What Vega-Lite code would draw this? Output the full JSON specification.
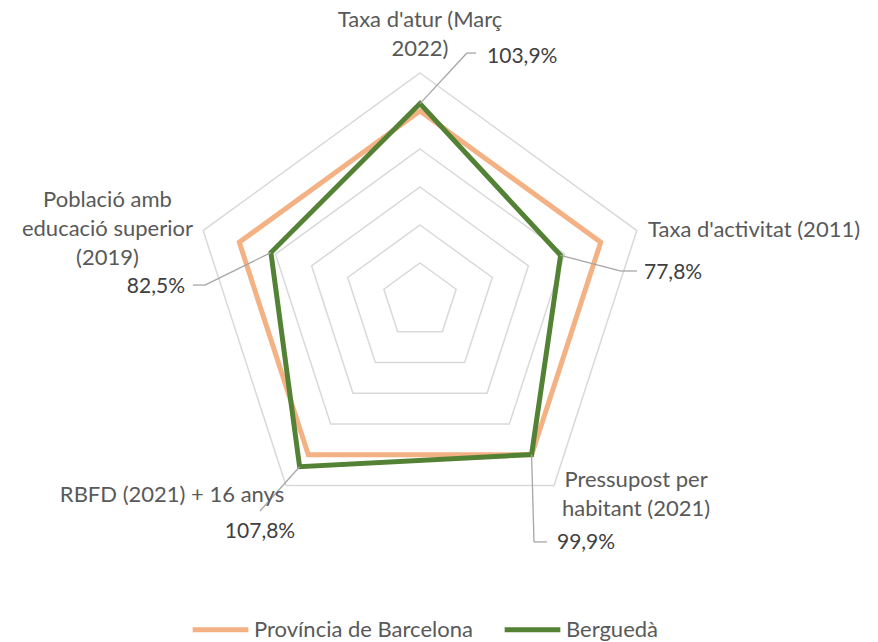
{
  "$schema": "https://vega.github.io/schema/vega-lite/v6.json",
  "width": 878,
  "height": 642,
  "autosize": {"type": "none"},
  "padding": 0,
  "background": "white",
  "config": {"view": {"stroke": null}, "font": "Lato"},
  "datasets": {
    "valors": [
      {"indicador": "Taxa d'atur (Març\n2022)", "k": 0, "serie": "Província de Barcelona", "valor": 100},
      {"indicador": "Taxa d'activitat (2011)", "k": 1, "serie": "Província de Barcelona", "valor": 100},
      {"indicador": "Pressupost per\nhabitant (2021)", "k": 2, "serie": "Província de Barcelona", "valor": 100},
      {"indicador": "RBFD (2021) + 16 anys", "k": 3, "serie": "Província de Barcelona", "valor": 100},
      {"indicador": "Població amb\neducació superior\n(2019)", "k": 4, "serie": "Província de Barcelona", "valor": 100},
      {"indicador": "Taxa d'atur (Març\n2022)", "k": 0, "serie": "Berguedà", "valor": 103.9},
      {"indicador": "Taxa d'activitat (2011)", "k": 1, "serie": "Berguedà", "valor": 77.8},
      {"indicador": "Pressupost per\nhabitant (2021)", "k": 2, "serie": "Berguedà", "valor": 99.9},
      {"indicador": "RBFD (2021) + 16 anys", "k": 3, "serie": "Berguedà", "valor": 107.8},
      {"indicador": "Població amb\neducació superior\n(2019)", "k": 4, "serie": "Berguedà", "valor": 82.5}
    ],
    "reixa": [
      {"nivell": 20, "k": 0}, {"nivell": 20, "k": 1}, {"nivell": 20, "k": 2}, {"nivell": 20, "k": 3}, {"nivell": 20, "k": 4},
      {"nivell": 40, "k": 0}, {"nivell": 40, "k": 1}, {"nivell": 40, "k": 2}, {"nivell": 40, "k": 3}, {"nivell": 40, "k": 4},
      {"nivell": 60, "k": 0}, {"nivell": 60, "k": 1}, {"nivell": 60, "k": 2}, {"nivell": 60, "k": 3}, {"nivell": 60, "k": 4},
      {"nivell": 80, "k": 0}, {"nivell": 80, "k": 1}, {"nivell": 80, "k": 2}, {"nivell": 80, "k": 3}, {"nivell": 80, "k": 4},
      {"nivell": 100, "k": 0}, {"nivell": 100, "k": 1}, {"nivell": 100, "k": 2}, {"nivell": 100, "k": 3}, {"nivell": 100, "k": 4},
      {"nivell": 120, "k": 0}, {"nivell": 120, "k": 1}, {"nivell": 120, "k": 2}, {"nivell": 120, "k": 3}, {"nivell": 120, "k": 4}
    ]
  },
  "layer": [
    {
      "data": {"name": "reixa"},
      "transform": [
        {"calculate": "2*PI*datum.k/5", "as": "ang"},
        {"calculate": "datum.nivell*sin(datum.ang)", "as": "x"},
        {"calculate": "datum.nivell*cos(datum.ang)", "as": "y"}
      ],
      "mark": {"type": "line", "interpolate": "linear-closed", "stroke": "#d9d9d9", "strokeWidth": 1.5, "strokeJoin": "miter"},
      "encoding": {
        "x": {"field": "x", "type": "quantitative", "scale": {"domain": [-221.05, 241.05], "nice": false, "zero": false}, "axis": null},
        "y": {"field": "y", "type": "quantitative", "scale": {"domain": [-179.47, 158.42], "nice": false, "zero": false}, "axis": null},
        "detail": {"field": "nivell", "type": "nominal"},
        "order": {"field": "k", "type": "quantitative"}
      }
    },
    {
      "data": {"name": "valors"},
      "transform": [
        {"calculate": "2*PI*datum.k/5", "as": "ang"},
        {"calculate": "datum.valor*sin(datum.ang)", "as": "x"},
        {"calculate": "datum.valor*cos(datum.ang)", "as": "y"}
      ],
      "mark": {"type": "line", "interpolate": "linear-closed", "strokeWidth": 5, "strokeJoin": "miter"},
      "encoding": {
        "x": {"field": "x", "type": "quantitative", "scale": {"domain": [-221.05, 241.05], "nice": false, "zero": false}, "axis": null},
        "y": {"field": "y", "type": "quantitative", "scale": {"domain": [-179.47, 158.42], "nice": false, "zero": false}, "axis": null},
        "color": {
          "field": "serie", "type": "nominal",
          "scale": {"domain": ["Província de Barcelona", "Berguedà"], "range": ["#F4B183", "#548235"]},
          "legend": {
            "orient": "none", "legendX": 190, "legendY": 599, "direction": "horizontal", "title": null,
            "symbolType": "stroke", "symbolStrokeWidth": 5, "symbolSize": 3100,
            "labelFont": "Lato", "labelFontSize": 22, "labelColor": "#595959", "labelOffset": 3, "labelLimit": 0,
            "columnPadding": 21
          }
        },
        "order": {"field": "k", "type": "quantitative"}
      }
    },
    {
      "data": {"name": "valors"},
      "transform": [
        {"filter": "datum.serie == 'Berguedà'"},
        {"calculate": "2*PI*datum.k/5", "as": "ang"},
        {"calculate": "datum.valor*sin(datum.ang)", "as": "x"},
        {"calculate": "datum.valor*cos(datum.ang)", "as": "y"},
        {"calculate": "[24.7, 105.3, 60, -84.2, -113.2][datum.k]", "as": "ex"},
        {"calculate": "[130.5, 15.8, -126.8, -110.5, 8.4][datum.k]", "as": "ey"}
      ],
      "mark": {"type": "rule", "stroke": "#a6a6a6", "strokeWidth": 1.3},
      "encoding": {
        "x": {"field": "x", "type": "quantitative", "scale": {"domain": [-221.05, 241.05], "nice": false, "zero": false}, "axis": null},
        "y": {"field": "y", "type": "quantitative", "scale": {"domain": [-179.47, 158.42], "nice": false, "zero": false}, "axis": null},
        "x2": {"field": "ex"},
        "y2": {"field": "ey"}
      }
    },
    {
      "data": {"name": "valors"},
      "transform": [
        {"filter": "datum.serie == 'Berguedà' && datum.k != 3"},
        {"calculate": "[24.7, 105.3, 60, -84.2, -113.2][datum.k]", "as": "ex"},
        {"calculate": "[130.5, 15.8, -126.8, -110.5, 8.4][datum.k]", "as": "ey"},
        {"calculate": "[29.5, 114.2, 66.8, -84.2, -119.5][datum.k]", "as": "tx"}
      ],
      "mark": {"type": "rule", "stroke": "#a6a6a6", "strokeWidth": 1.3},
      "encoding": {
        "x": {"field": "ex", "type": "quantitative", "scale": {"domain": [-221.05, 241.05], "nice": false, "zero": false}, "axis": null},
        "y": {"field": "ey", "type": "quantitative", "scale": {"domain": [-179.47, 158.42], "nice": false, "zero": false}, "axis": null},
        "x2": {"field": "tx"},
        "y2": {"field": "ey"}
      }
    },
    {
      "data": {"name": "valors"},
      "transform": [
        {"filter": "datum.serie == 'Berguedà'"},
        {"calculate": "replace(format(datum.valor, '.1f'), '.', ',') + '%'", "as": "etiqueta"},
        {"calculate": "[35.3, 117.9, 72.1, -84.2, -123.7][datum.k]", "as": "lx"},
        {"calculate": "[128.4, 14.7, -127.4, -121.6, 7.4][datum.k]", "as": "ly"},
        {"calculate": "datum.k <= 2 ? 'left' : (datum.k == 3 ? 'center' : 'right')", "as": "al"}
      ],
      "layer": [
        {
          "transform": [{"filter": "datum.al == 'left'"}],
          "mark": {"type": "text", "align": "left", "baseline": "middle", "fontSize": 21, "font": "Lato", "color": "#404040"},
          "encoding": {
            "x": {"field": "lx", "type": "quantitative", "scale": {"domain": [-221.05, 241.05], "nice": false, "zero": false}, "axis": null},
            "y": {"field": "ly", "type": "quantitative", "scale": {"domain": [-179.47, 158.42], "nice": false, "zero": false}, "axis": null},
            "text": {"field": "etiqueta"}
          }
        },
        {
          "transform": [{"filter": "datum.al == 'center'"}],
          "mark": {"type": "text", "align": "center", "baseline": "middle", "fontSize": 21, "font": "Lato", "color": "#404040"},
          "encoding": {
            "x": {"field": "lx", "type": "quantitative", "scale": {"domain": [-221.05, 241.05], "nice": false, "zero": false}, "axis": null},
            "y": {"field": "ly", "type": "quantitative", "scale": {"domain": [-179.47, 158.42], "nice": false, "zero": false}, "axis": null},
            "text": {"field": "etiqueta"}
          }
        },
        {
          "transform": [{"filter": "datum.al == 'right'"}],
          "mark": {"type": "text", "align": "right", "baseline": "middle", "fontSize": 21, "font": "Lato", "color": "#404040"},
          "encoding": {
            "x": {"field": "lx", "type": "quantitative", "scale": {"domain": [-221.05, 241.05], "nice": false, "zero": false}, "axis": null},
            "y": {"field": "ly", "type": "quantitative", "scale": {"domain": [-179.47, 158.42], "nice": false, "zero": false}, "axis": null},
            "text": {"field": "etiqueta"}
          }
        }
      ]
    },
    {
      "data": {"name": "valors"},
      "transform": [
        {"filter": "datum.serie == 'Província de Barcelona'"},
        {"calculate": "[0, 120, 113.7, -130.5, -164.5][datum.k]", "as": "cx"},
        {"calculate": "[147.9, 37.4, -94.2, -102.1, 53.2][datum.k]", "as": "cy"}
      ],
      "layer": [
        {
          "transform": [{"filter": "datum.k != 1"}],
          "mark": {"type": "text", "align": "center", "baseline": "middle", "fontSize": 22, "font": "Lato", "color": "#595959", "lineBreak": "\n", "lineHeight": 29},
          "encoding": {
            "x": {"field": "cx", "type": "quantitative", "scale": {"domain": [-221.05, 241.05], "nice": false, "zero": false}, "axis": null},
            "y": {"field": "cy", "type": "quantitative", "scale": {"domain": [-179.47, 158.42], "nice": false, "zero": false}, "axis": null},
            "text": {"field": "indicador"}
          }
        },
        {
          "transform": [{"filter": "datum.k == 1"}],
          "mark": {"type": "text", "align": "left", "baseline": "middle", "fontSize": 22, "font": "Lato", "color": "#595959"},
          "encoding": {
            "x": {"field": "cx", "type": "quantitative", "scale": {"domain": [-221.05, 241.05], "nice": false, "zero": false}, "axis": null},
            "y": {"field": "cy", "type": "quantitative", "scale": {"domain": [-179.47, 158.42], "nice": false, "zero": false}, "axis": null},
            "text": {"field": "indicador"}
          }
        }
      ]
    }
  ]
}
